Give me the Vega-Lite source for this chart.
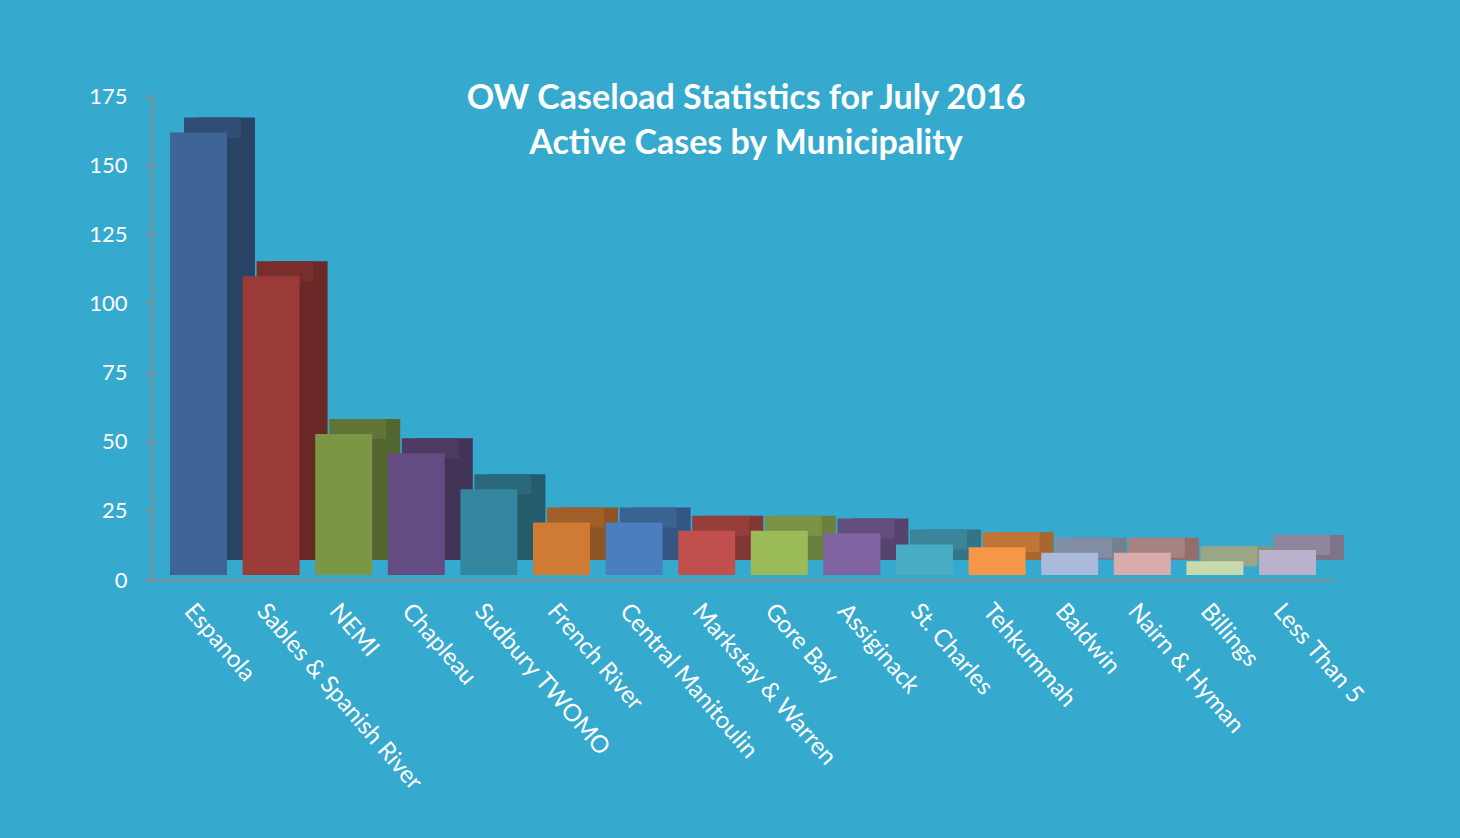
{
  "$schema": "https://vega.github.io/schema/vega-lite/v6.json",
  "width": 1182,
  "height": 484,
  "autosize": "none",
  "padding": {"left": 152, "top": 96, "right": 126, "bottom": 258},
  "background": "#36a9ce",
  "config": {"view": {"stroke": null}, "font": "Lato"},
  "title": {
    "text": ["OW Caseload Statistics for July 2016", "Active Cases by Municipality"],
    "color": "white",
    "font": "Lato",
    "fontSize": 34,
    "fontWeight": "bold",
    "lineHeight": 45,
    "anchor": "middle",
    "frame": "group",
    "baseline": "top",
    "offset": 0,
    "dx": 3,
    "dy": 76
  },
  "data": {
    "values": [
      {"municipality": "Espanola", "cases": 160},
      {"municipality": "Sables & Spanish River", "cases": 108},
      {"municipality": "NEMI", "cases": 51},
      {"municipality": "Chapleau", "cases": 44},
      {"municipality": "Sudbury TWOMO", "cases": 31},
      {"municipality": "French River", "cases": 19},
      {"municipality": "Central Manitoulin", "cases": 19},
      {"municipality": "Markstay & Warren", "cases": 16},
      {"municipality": "Gore Bay", "cases": 16},
      {"municipality": "Assiginack", "cases": 15},
      {"municipality": "St. Charles", "cases": 11},
      {"municipality": "Tehkummah", "cases": 10},
      {"municipality": "Baldwin", "cases": 8},
      {"municipality": "Nairn & Hyman", "cases": 8},
      {"municipality": "Billings", "cases": 5},
      {"municipality": "Less Than 5", "cases": 9}
    ]
  },
  "encoding": {
    "x": {
      "field": "municipality",
      "type": "nominal",
      "sort": null,
      "scale": {"paddingInner": 0.215, "paddingOuter": 0.248},
      "axis": {
        "title": null,
        "labelAngle": 49,
        "labelAlign": "left",
        "labelBaseline": "top",
        "labelColor": "white",
        "labelFontSize": 24,
        "labelFont": "Lato",
        "labelLimit": 0,
        "labelPadding": 19,
        "labelOffset": -1,
        "tickSize": 0,
        "domainColor": "#8a8a8a",
        "domainWidth": 2
      }
    },
    "y": {
      "field": "cases",
      "type": "quantitative",
      "scale": {"domain": [0, 175], "nice": false},
      "axis": {
        "title": null,
        "values": [0, 25, 50, 75, 100, 125, 150, 175],
        "grid": false,
        "labelColor": "white",
        "labelFontSize": 22,
        "labelFont": "Lato",
        "labelPadding": 18,
        "tickSize": 7,
        "tickColor": "#8a8a8a",
        "tickWidth": 2,
        "domainColor": "#8a8a8a",
        "domainWidth": 2
      }
    }
  },
  "layer": [
    {
      "mark": {"type": "bar", "xOffset": 28, "yOffset": -20, "y2Offset": -20},
      "encoding": {
        "color": {
          "field": "municipality",
          "type": "nominal",
          "legend": null,
          "scale": {
            "domain": ["Espanola", "Sables & Spanish River", "NEMI", "Chapleau", "Sudbury TWOMO", "French River", "Central Manitoulin", "Markstay & Warren", "Gore Bay", "Assiginack", "St. Charles", "Tehkummah", "Baldwin", "Nairn & Hyman", "Billings", "Less Than 5"],
            "range": ["#2a4466", "#6a2826", "#54662f", "#433457", "#245c6c", "#8e5424", "#335682", "#833735", "#6a803d", "#57446e", "#337586", "#a86630", "#74808f", "#936f6c", "#879479", "#7d7587"]
          }
        }
      }
    },
    {
      "mark": {"type": "bar", "xOffset": 14, "yOffset": -20, "y2Offset": 0},
      "encoding": {
        "y2": {"field": "cases"},
        "color": {
          "field": "municipality",
          "type": "nominal",
          "legend": null,
          "scale": {
            "domain": ["Espanola", "Sables & Spanish River", "NEMI", "Chapleau", "Sudbury TWOMO", "French River", "Central Manitoulin", "Markstay & Warren", "Gore Bay", "Assiginack", "St. Charles", "Tehkummah", "Baldwin", "Nairn & Hyman", "Billings", "Less Than 5"],
            "range": ["#304e75", "#782e2c", "#5f7536", "#4c3b63", "#2a697c", "#a05f28", "#3a6293", "#953e3b", "#799245", "#634e7e", "#3a8599", "#bf7536", "#828ca3", "#a68381", "#9ba686", "#8e879b"]
          }
        }
      }
    },
    {
      "mark": {"type": "bar", "yOffset": -5, "y2Offset": -5},
      "encoding": {
        "color": {
          "field": "municipality",
          "type": "nominal",
          "legend": null,
          "scale": {
            "domain": ["Espanola", "Sables & Spanish River", "NEMI", "Chapleau", "Sudbury TWOMO", "French River", "Central Manitoulin", "Markstay & Warren", "Gore Bay", "Assiginack", "St. Charles", "Tehkummah", "Baldwin", "Nairn & Hyman", "Billings", "Less Than 5"],
            "range": ["#3f6597", "#9a3b38", "#7b9645", "#634c81", "#35879f", "#d07b34", "#4a7ebf", "#c0504d", "#9bbb59", "#8064a2", "#4bacc6", "#f79646", "#abb9da", "#d9abaa", "#c8d9ad", "#bab1cc"]
          }
        }
      }
    }
  ],
  "resolve": {"scale": {"color": "independent"}}
}
